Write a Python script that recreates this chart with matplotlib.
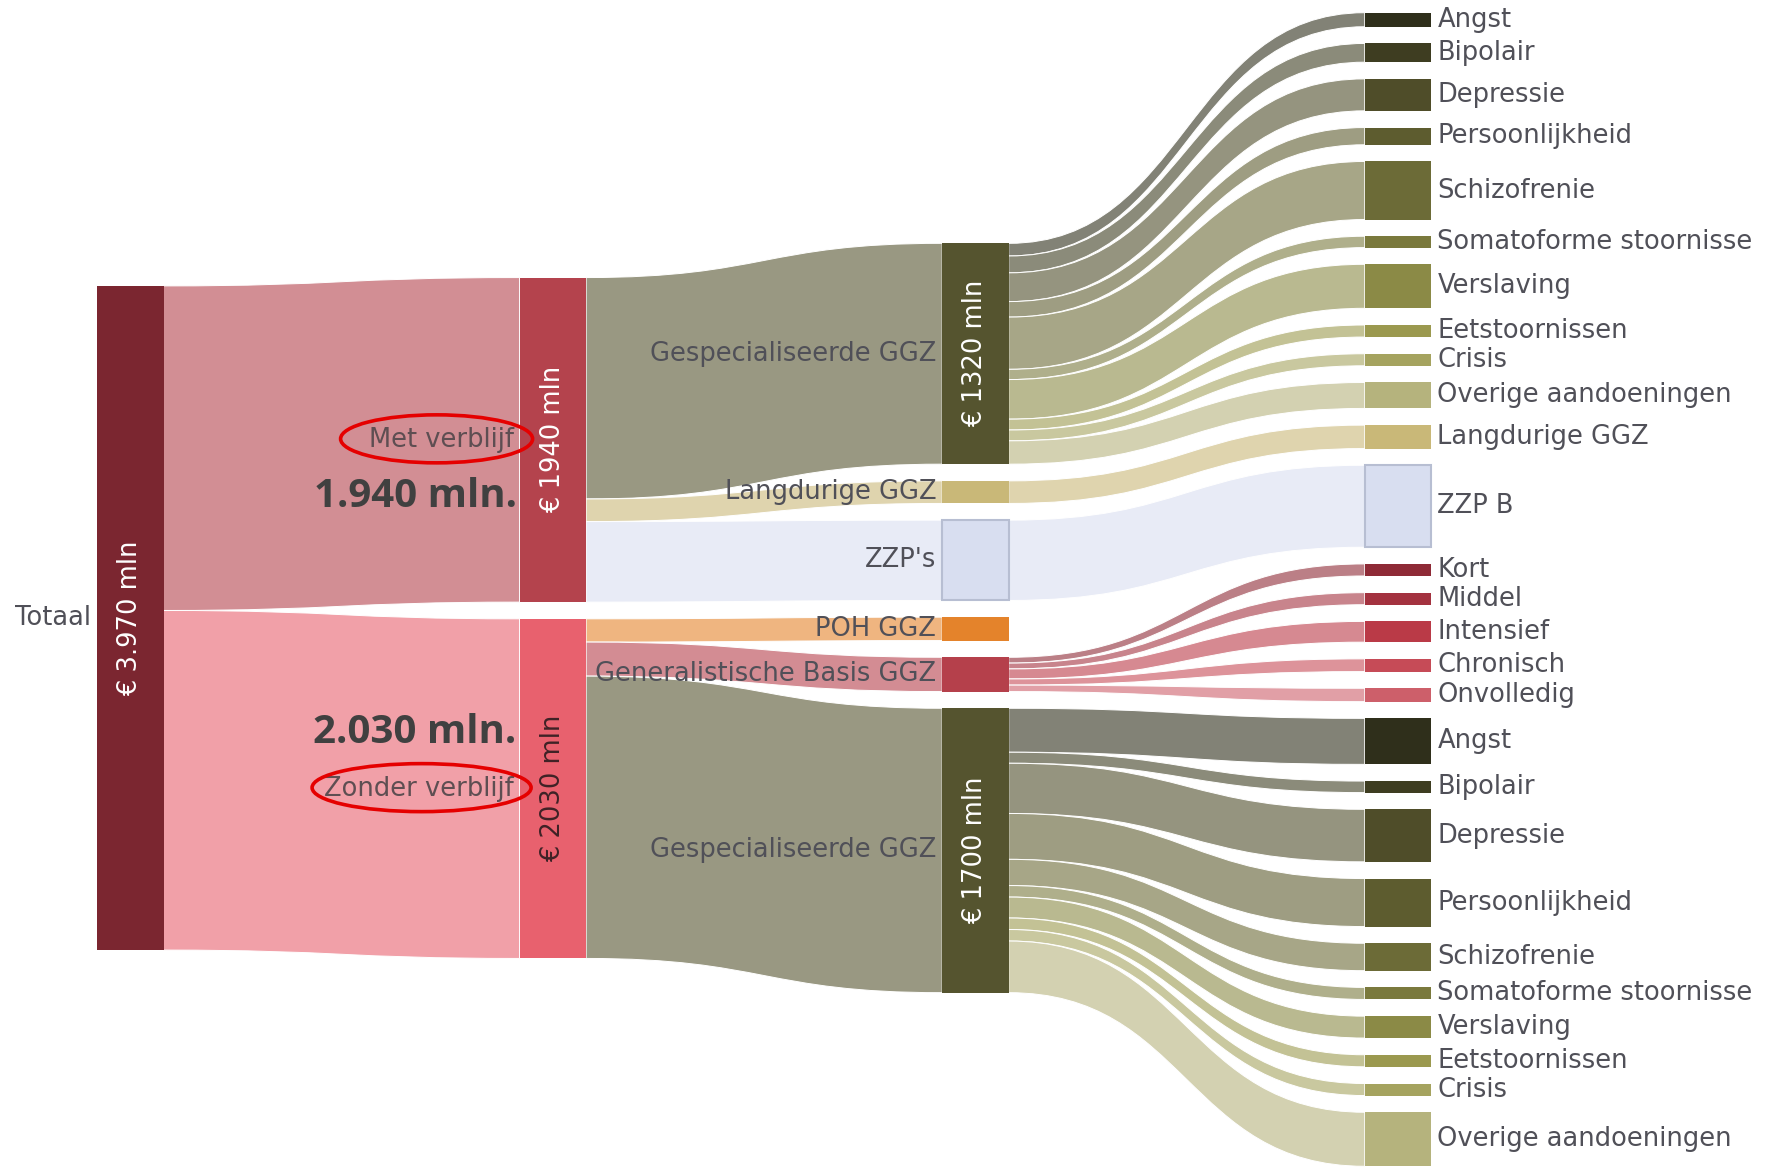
import matplotlib
matplotlib.use("Agg")
import matplotlib.pyplot as plt
from matplotlib.path import Path
from matplotlib.patches import PathPatch, Rectangle, Ellipse
import matplotlib.colors as mcolors

plt.rcParams['font.family'] = ['DejaVu Sans']

# ---------------- data (mln euro) ----------------
total_name = "Totaal"
total_value = 3970
total_label = "€ 3.970 mln"

stay_names = ["Met verblijf", "Zonder verblijf"]
stay_values = [1940, 2030]
stay_labels = ["€ 1940 mln", "€ 2030 mln"]
stay_totals = ["1.940 mln.", "2.030 mln."]

care_names = ["Gespecialiseerde GGZ", "Langdurige GGZ", "ZZP's", "POH GGZ",
              "Generalistische Basis GGZ", "Gespecialiseerde GGZ"]
care_values = [1320, 135, 480, 140, 205, 1700]
care_parent = [0, 0, 0, 1, 1, 1]
care_labels = ["€ 1320 mln", "", "", "", "", "€ 1700 mln"]

diagnoses = ["Angst", "Bipolair", "Depressie", "Persoonlijkheid", "Schizofrenie",
             "Somatoforme stoornisse", "Verslaving", "Eetstoornissen", "Crisis",
             "Overige aandoeningen"]
diag_met = [84, 112, 191, 103, 347, 68, 263, 72, 72, 155]
diag_zonder = [275, 69, 314, 287, 164, 72, 131, 72, 72, 323]

langdurig_name = "Langdurige GGZ"
langdurig_value = 140
zzp_name = "ZZP B"
zzp_value = 490

gb_names = ["Kort", "Middel", "Intensief", "Chronisch", "Onvolledig"]
gb_values = [72, 72, 124, 76, 80]

# ---------------- styling ----------------
total_color = "#7B2630"
stay_colors = ["#B4434D", "#E8616E"]
care_colors = ["#55542F", "#C9B878", "#D8DEF0", "#E4832B", "#B5404B", "#55542F"]
diag_colors = ["#2F2F1B", "#3E3D21", "#4F4D29", "#5D5C2F", "#6C6B37",
               "#7A793D", "#8B8A46", "#9B994F", "#A5A35F", "#B5B37D"]
langdurig_color = "#C9B878"
zzp_color = "#D8DEF0"
gb_colors = ["#8E2A36", "#A3323F", "#BA3A47", "#C64B57", "#CD5F6A"]

W, H = 1767, 1167
SCALE = 0.1673        # px per mln euro
GAP = 16.7
NODE_W = 66.5
COL_X = [97 + i * 422.6 for i in range(4)]
MID_Y = 618
LAST_TOP = 12.7
LINK_ALPHA = 0.6
TEXT_COLOR = "#505058"
FS = 18.5


def tint(color, a=LINK_ALPHA):
    r, g, b = mcolors.to_rgb(color)
    return (a * r + (1 - a), a * g + (1 - a), a * b + (1 - a))


def stack(values, top=None, center=None):
    heights = [v * SCALE for v in values]
    total = sum(heights) + GAP * (len(values) - 1)
    y = top if top is not None else center - total / 2
    spans = []
    for h in heights:
        spans.append((y, y + h))
        y += h + GAP
    return spans


# ---------------- build columns ----------------
col4_names = diagnoses + [langdurig_name, zzp_name] + gb_names + diagnoses
col4_values = diag_met + [langdurig_value, zzp_value] + gb_values + diag_zonder
col4_parent = [0] * len(diagnoses) + [1, 2] + [4] * len(gb_names) + [5] * len(diagnoses)
col4_colors = diag_colors + [langdurig_color, zzp_color] + gb_colors + diag_colors

columns = [
    dict(names=[total_name], values=[total_value], colors=[total_color],
         parent=None, spans=stack([total_value], center=MID_Y)),
    dict(names=stay_names, values=stay_values, colors=stay_colors,
         parent=[0, 0], spans=stack(stay_values, center=MID_Y)),
    dict(names=care_names, values=care_values, colors=care_colors,
         parent=care_parent, spans=stack(care_values, center=MID_Y)),
    dict(names=col4_names, values=col4_values, colors=col4_colors,
         parent=col4_parent, spans=stack(col4_values, top=LAST_TOP)),
]

fig = plt.figure(figsize=(W / 100, H / 100), dpi=100)
ax = fig.add_axes([0, 0, 1, 1])
ax.set_xlim(0, W)
ax.set_ylim(H, 0)
ax.axis("off")


def ribbon(x0, s0, s1, x1, t0, t1, color):
    xm = (x0 + x1) / 2
    verts = [(x0, s0), (xm, s0), (xm, t0), (x1, t0),
             (x1, t1), (xm, t1), (xm, s1), (x0, s1), (x0, s0)]
    codes = [Path.MOVETO, Path.CURVE4, Path.CURVE4, Path.CURVE4,
             Path.LINETO, Path.CURVE4, Path.CURVE4, Path.CURVE4, Path.CLOSEPOLY]
    ax.add_patch(PathPatch(Path(verts, codes), facecolor=color,
                           edgecolor="white", lw=0.7, zorder=1))


# links: source end is the child's share of the parent node,
# target end fills the child node
for k in range(1, 4):
    src, dst = columns[k - 1], columns[k]
    for p in range(len(src["values"])):
        kids = [i for i, q in enumerate(dst["parent"]) if q == p]
        if not kids:
            continue
        ps0, ps1 = src["spans"][p]
        tot = sum(dst["values"][i] for i in kids)
        y = ps0
        for i in kids:
            w = (ps1 - ps0) * dst["values"][i] / tot
            t0, t1 = dst["spans"][i]
            ribbon(COL_X[k - 1] + NODE_W, y, y + w, COL_X[k], t0, t1,
                   tint(dst["colors"][i]))
            y += w

# nodes
for k, col in enumerate(columns):
    for i, (y0, y1) in enumerate(col["spans"]):
        c = col["colors"][i]
        edge = "#B7BED2" if c == zzp_color else c
        ax.add_patch(Rectangle((COL_X[k], y0), NODE_W, y1 - y0, facecolor=c,
                               edgecolor=edge, lw=1.5 if c == zzp_color else 0,
                               zorder=2))

# node labels
for k, col in enumerate(columns):
    for i, (y0, y1) in enumerate(col["spans"]):
        cy = (y0 + y1) / 2
        if k == 3:
            ax.text(COL_X[k] + NODE_W + 6, cy, col["names"][i], ha="left",
                    va="center", fontsize=FS, color=TEXT_COLOR, zorder=4)
        else:
            color = "#5E4E52" if k == 1 else TEXT_COLOR
            ax.text(COL_X[k] - 6, cy, col["names"][i], ha="right",
                    va="center", fontsize=FS, color=color, zorder=4)

# value labels inside nodes
inside = [[total_label], stay_labels, care_labels]
inside_colors = [["white"], ["white", "#3F2226"], ["white"] * 6]
for k in range(3):
    for i, (y0, y1) in enumerate(columns[k]["spans"]):
        if inside[k][i]:
            ax.text(COL_X[k] + NODE_W / 2, (y0 + y1) / 2, inside[k][i],
                    rotation=90, ha="center", va="center", fontsize=FS,
                    color=inside_colors[k][i], zorder=4)

# highlighted totals per stay type
ell_w = [192, 219]
ell_dx = [83, 98]
for i, (y0, y1) in enumerate(columns[1]["spans"]):
    cy = (y0 + y1) / 2
    ax.add_patch(Ellipse((COL_X[1] - ell_dx[i], cy - 1), ell_w[i], 48,
                         facecolor="none", edgecolor="#E50000", lw=2.6, zorder=5))
    dy = 57 if i == 0 else -56
    ax.text(COL_X[1] - 3, cy + dy, stay_totals[i], ha="right", va="center",
            fontsize=29, fontweight="bold", color="#404040", zorder=5,
            family=["Open Sans", "DejaVu Sans"])

fig.savefig("out.png", dpi=100, facecolor="white")
